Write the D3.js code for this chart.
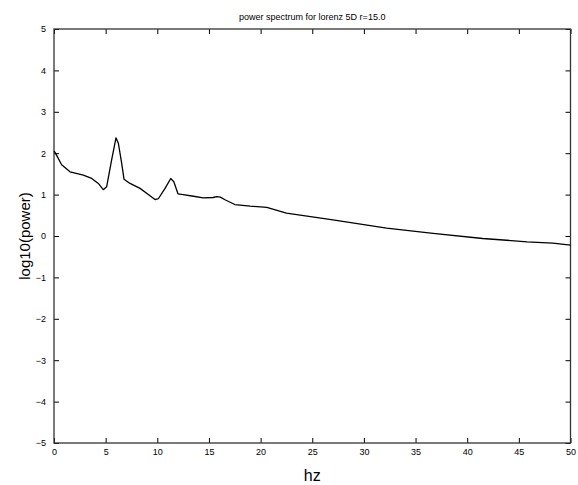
<!DOCTYPE html>
<html>
<head>
<meta charset="utf-8">
<script src="https://cdn.jsdelivr.net/npm/d3@7"></script>
<style>
  body { margin: 0; background: #fff; }
  svg { display: block; font-family: "Liberation Sans", Arial, sans-serif; }
</style>
</head>
<body>
<svg id="chart"></svg>
<script>
// spectrum
var hz = [0, 0.1, 0.74, 1.55, 2.84, 3.65, 4.29, 4.77, 5.1, 5.58, 6.0, 6.23, 6.55, 6.78,
          7.36, 8.33, 9.13, 9.78, 10.1, 10.75, 11.3, 11.6, 12.0, 12.5, 13.5, 14.45,
          15.4, 15.75, 16.1, 16.6, 17.5, 19.0, 20.6, 22.5, 27.0, 32.2, 36.7, 41.5,
          45.8, 48.3, 50];
var logPower = [2.05, 2.02, 1.72, 1.55, 1.47, 1.39, 1.27, 1.12, 1.19, 1.84, 2.37, 2.24,
                1.76, 1.37, 1.27, 1.15, 1.0, 0.88, 0.9, 1.15, 1.39, 1.31, 1.02, 1.0,
                0.96, 0.92, 0.93, 0.95, 0.94, 0.87, 0.76, 0.72, 0.69, 0.55, 0.39, 0.19,
                0.065, -0.06, -0.14, -0.17, -0.22];
var xTicks = [0, 5, 10, 15, 20, 25, 30, 35, 40, 45, 50];
var yTicks = [-5, -4, -3, -2, -1, 0, 1, 2, 3, 4, 5];

var width = 578, height = 485;
var margin = {top: 29, right: 7.5, bottom: 42, left: 54};

var svg = d3.select("#chart")
    .attr("width", width)
    .attr("height", height);

var x = d3.scaleLinear().domain([0, 50]).range([margin.left, width - margin.right]);
var y = d3.scaleLinear().domain([-5, 5]).range([height - margin.bottom, margin.top]);

// ticks point inward on all four sides, like matlab
function styleAxis(g) {
  g.select(".domain").remove();
  g.selectAll("line").attr("stroke", "#000");
  g.selectAll("text").attr("fill", "#000").attr("font-size", "9px");
}

svg.append("g")
    .attr("transform", "translate(0," + y(-5) + ")")
    .call(d3.axisBottom(x).tickValues(xTicks).tickSizeInner(-5).tickSizeOuter(0).tickPadding(6))
    .call(styleAxis);
svg.append("g")
    .attr("transform", "translate(0," + y(5) + ")")
    .call(d3.axisTop(x).tickValues(xTicks).tickSizeInner(-5).tickSizeOuter(0).tickFormat(""))
    .call(styleAxis);
svg.append("g")
    .attr("transform", "translate(" + x(0) + ",0)")
    .call(d3.axisLeft(y).tickValues(yTicks).tickSizeInner(-5).tickSizeOuter(0).tickPadding(8))
    .call(styleAxis);
svg.append("g")
    .attr("transform", "translate(" + x(50) + ",0)")
    .call(d3.axisRight(y).tickValues(yTicks).tickSizeInner(-5).tickSizeOuter(0).tickFormat(""))
    .call(styleAxis);

svg.append("rect")
    .attr("x", x(0))
    .attr("y", y(5))
    .attr("width", x(50) - x(0))
    .attr("height", y(-5) - y(5))
    .attr("fill", "none")
    .attr("stroke", "#333")
    .attr("stroke-width", 1.3);

var line = d3.line()
    .x((d, i) => x(hz[i]))
    .y(d => y(d));

svg.append("path")
    .datum(logPower)
    .attr("d", line)
    .attr("fill", "none")
    .attr("stroke", "#000")
    .attr("stroke-width", 1.3)
    .attr("stroke-linejoin", "round");

svg.append("text")
    .attr("x", (x(0) + x(50)) / 2)
    .attr("y", 20)
    .attr("text-anchor", "middle")
    .attr("font-size", "9px")
    .text("power spectrum for lorenz 5D  r=15.0");

svg.append("text")
    .attr("x", (x(0) + x(50)) / 2)
    .attr("y", 481)
    .attr("text-anchor", "middle")
    .attr("font-size", "16px")
    .text("hz");

svg.append("text")
    .attr("transform", "translate(30," + y(0) + ") rotate(-90)")
    .attr("text-anchor", "middle")
    .attr("font-size", "15px")
    .text("log10(power)");
</script>
</body>
</html>
